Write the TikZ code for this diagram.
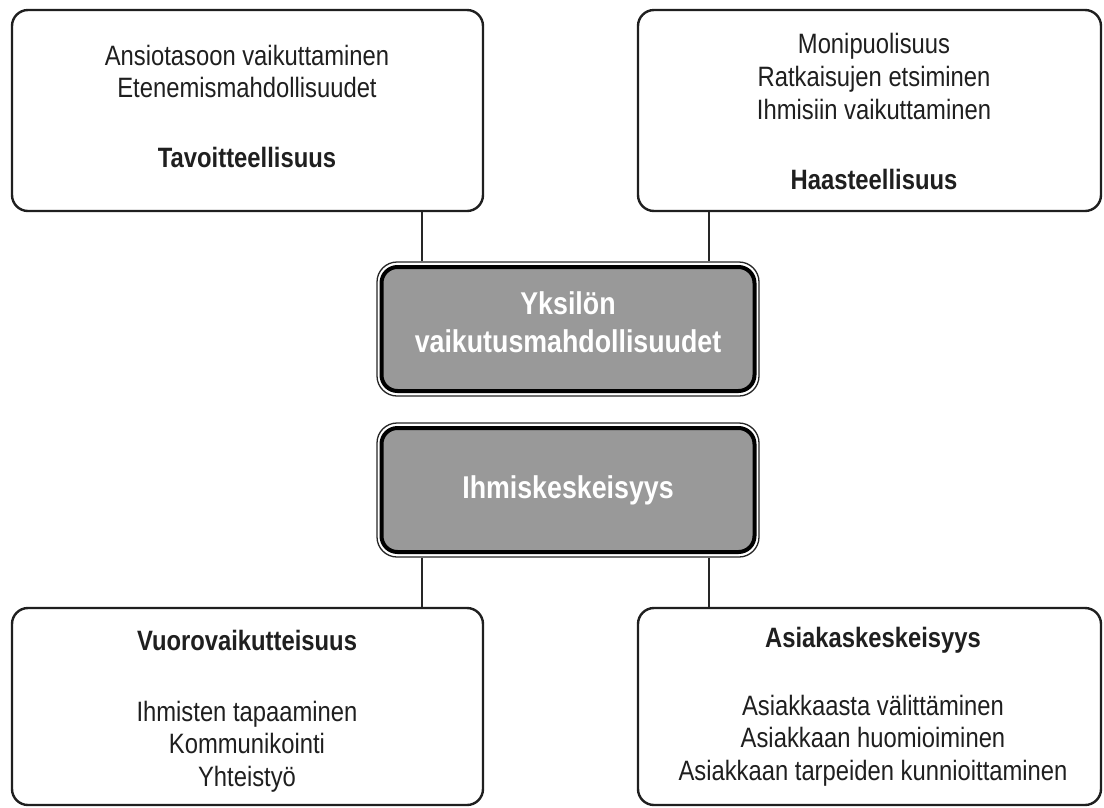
\documentclass[tikz,border=0pt]{standalone}
\usepackage{fontspec}
\setmainfont{Liberation Sans}[FakeStretch=0.85]
\begin{document}
\begin{tikzpicture}[x=1pt,y=-1pt,
  box/.style={draw=black!88, line width=2.4pt, rounded corners=16pt, fill=white, inner sep=0pt},
  frame/.style={draw=black!85, line width=1.3pt, rounded corners=20pt, fill=white, inner sep=0pt,
    minimum width=382pt, minimum height=134pt},
  core/.style={draw=black, line width=4pt, rounded corners=16pt, fill=black!40, inner sep=0pt,
    minimum width=373pt, minimum height=124pt},
  link/.style={draw=black!85, line width=1.2pt},
  txt/.style={anchor=base, text=black!88, font=\fontsize{28}{33}\selectfont, inner sep=0pt},
  head/.style={anchor=base, text=black!88, font=\fontsize{28}{33}\selectfont\bfseries, inner sep=0pt},
  coretxt/.style={anchor=base, text=white, font=\fontsize{31.5}{38}\selectfont\bfseries, inner sep=0pt}]
\useasboundingbox (0,0) rectangle (1104,807);

% corner boxes
\node[box, minimum width=471pt, minimum height=201pt] (tl) at (247.5,110.5) {};
\node[box, minimum width=463pt, minimum height=201pt] (tr) at (869.5,110.5) {};
\node[box, minimum width=471pt, minimum height=197pt] (bl) at (247.5,706.5) {};
\node[box, minimum width=463pt, minimum height=197pt] (br) at (869.5,706.5) {};

% central double-framed boxes
\node[frame] (f1) at (568,329) {};
\node[core]  (c1) at (568,329) {};
\node[frame] (f2) at (568,490) {};
\node[core]  (c2) at (568,490) {};

% connector columns
\coordinate (lx) at (422,0);
\coordinate (rx) at (709,0);
\draw[link] (tl.south -| lx) -- (f1.north -| lx);
\draw[link] (tr.south -| rx) -- (f1.north -| rx);
\draw[link] (f2.south -| lx) -- (bl.north -| lx);
\draw[link] (f2.south -| rx) -- (br.north -| rx);

% top left
\node[txt]  (tl1) at (247,65)  {Ansiotasoon vaikuttaminen};
\node[txt]  (tl2) at (247,97)  {Etenemismahdollisuudet};
\node[head] (tl3) at (247,167) {Tavoitteellisuus};
% top right
\node[txt]  (tr1) at (874,53)  {Monipuolisuus};
\node[txt]  (tr2) at (874,86)  {Ratkaisujen etsiminen};
\node[txt]  (tr3) at (874,119) {Ihmisiin vaikuttaminen};
\node[head] (tr4) at (874,189) {Haasteellisuus};
% centre
\node[coretxt] (c1a) at (568,314) {Yksilön};
\node[coretxt] (c1b) at (568,352) {vaikutusmahdollisuudet};
\node[coretxt] (c2a) at (568,498) {Ihmiskeskeisyys};
% bottom left
\node[head] (bl1) at (247,650) {Vuorovaikutteisuus};
\node[txt]  (bl2) at (247,721) {Ihmisten tapaaminen};
\node[txt]  (bl3) at (247,753) {Kommunikointi};
\node[txt]  (bl4) at (247,786) {Yhteistyö};
% bottom right
\node[head] (br1) at (873,647) {Asiakaskeskeisyys};
\node[txt]  (br2) at (873,715) {Asiakkaasta välittäminen};
\node[txt]  (br3) at (873,747) {Asiakkaan huomioiminen};
\node[txt]  (br4) at (873,780) {Asiakkaan tarpeiden kunnioittaminen};
\end{tikzpicture}
\end{document}
